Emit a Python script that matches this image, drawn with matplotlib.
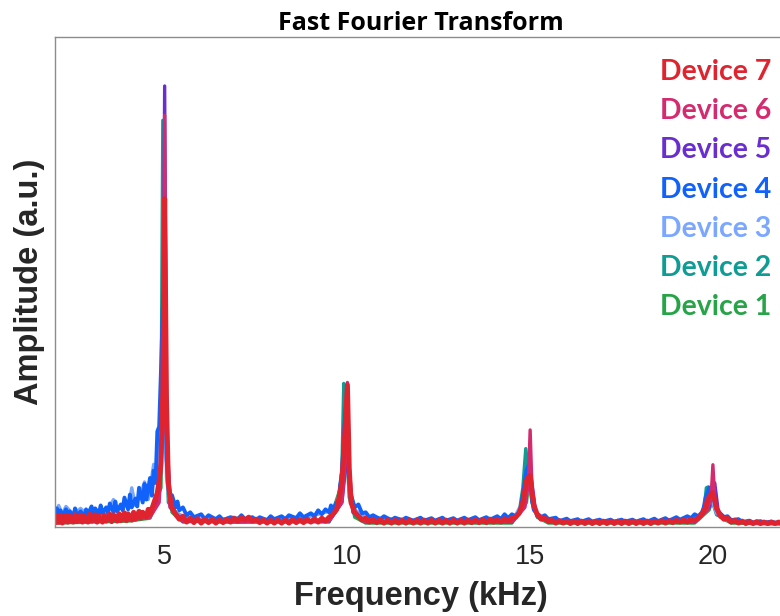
import matplotlib
matplotlib.use("Agg")
import matplotlib.pyplot as plt

# FFT spectra, (frequency kHz, amplitude in % of axis height)
dev1 = [(2.0, 0.8), (4.0, 1.2), (4.6, 1.8), (4.9, 8.0), (5.0, 60), (5.05, 15), (5.2, 3.0), (5.5, 1.0),
        (7.0, 1.8), (7.3, 1.2), (9.5, 1.0), (9.9, 10), (10.0, 22), (10.05, 8.0), (10.2, 2.0), (10.5, 0.8),
        (14.5, 0.8), (14.9, 5.0), (15.0, 12), (15.05, 6.0), (15.2, 2.0), (15.5, 0.8), (19.5, 0.8),
        (19.9, 3.5), (20.0, 6.0), (20.05, 5.0), (20.2, 2.0), (20.5, 0.8), (22.0, 0.6)]

dev2 = [(2.0, 1.0), (4.0, 1.4), (4.6, 2.0), (4.8, 5.0), (4.9, 20), (4.95, 83), (5.0, 30), (5.1, 5.0),
        (5.5, 1.2), (7.0, 1.0), (9.5, 1.2), (9.75, 4.0), (9.85, 12), (9.9, 29.3), (9.95, 20), (10.05, 6.0),
        (10.2, 2.5), (10.5, 1.0), (14.5, 1.0), (14.7, 3.0), (14.8, 8.0), (14.88, 16), (14.95, 12),
        (15.05, 5.0), (15.2, 2.0), (15.5, 1.0), (19.5, 1.0), (19.75, 3.0), (19.82, 8.0), (19.88, 8.2),
        (19.95, 6.0), (20.1, 2.5), (20.5, 1.0), (22.0, 0.7)]

dev3 = [(2.0, 2.4), (2.1, 4.4), (2.2, 2.6), (2.3, 4.2), (2.5, 2.6), (2.7, 3.8), (2.9, 2.4), (3.1, 3.6),
        (3.3, 2.8), (3.5, 4.2), (3.6, 5.6), (3.7, 3.4), (3.9, 4.8), (4.0, 3.8), (4.1, 8.0), (4.2, 4.4),
        (4.35, 6.8), (4.45, 9.2), (4.55, 5.6), (4.7, 12.8), (4.8, 9.0), (4.9, 22), (5.0, 40), (5.05, 10),
        (5.15, 4.5), (5.3, 3.0), (5.5, 2.2), (6.0, 1.6), (7.0, 1.4), (8.0, 1.6), (9.0, 2.2), (9.5, 3.2),
        (9.7, 4.5), (9.85, 9.0), (10.0, 20), (10.05, 8.0), (10.2, 3.5), (10.5, 2.0), (12.0, 1.3),
        (14.0, 1.5), (14.6, 2.4), (14.85, 6.0), (15.0, 8.0), (15.1, 3.5), (15.3, 1.8), (16.0, 1.2),
        (19.0, 1.2), (19.7, 2.4), (19.9, 5.0), (20.0, 5.0), (20.1, 2.8), (20.4, 1.4), (21.0, 1.0), (22.0, 0.8)]

dev4 = [(2.0, 2.0), (2.05, 3.8), (2.1, 2.4), (2.15, 3.4), (2.2, 2.0), (2.3, 3.6), (2.35, 2.4), (2.4, 3.2),
        (2.5, 2.2), (2.55, 3.8), (2.6, 2.2), (2.7, 3.2), (2.8, 2.0), (2.85, 3.6), (2.9, 2.6), (3.0, 4.2),
        (3.05, 2.4), (3.1, 3.8), (3.2, 2.6), (3.25, 4.4), (3.3, 2.8), (3.4, 4.0), (3.45, 2.8), (3.5, 4.8),
        (3.6, 3.0), (3.65, 5.2), (3.7, 3.2), (3.8, 4.6), (3.85, 3.4), (3.9, 6.0), (4.0, 3.6), (4.05, 6.6),
        (4.1, 4.0), (4.2, 5.8), (4.25, 4.2), (4.3, 8.0), (4.4, 5.0), (4.45, 8.8), (4.5, 5.6), (4.6, 10.0),
        (4.65, 6.4), (4.7, 11.5), (4.75, 9.0), (4.8, 19.5), (4.85, 20.5), (4.9, 32), (4.95, 45), (5.0, 50),
        (5.05, 14), (5.1, 8.5), (5.15, 5.5), (5.2, 6.5), (5.3, 4.0), (5.35, 5.2), (5.4, 3.4), (5.5, 4.0),
        (5.6, 2.4), (5.7, 3.0), (5.8, 2.0), (6.0, 2.6), (6.1, 1.6), (6.2, 2.4), (6.4, 1.6), (6.5, 2.2),
        (6.6, 1.4), (6.8, 2.0), (7.0, 1.6), (7.1, 2.4), (7.2, 1.6), (7.4, 2.0), (7.5, 1.4), (7.6, 2.0),
        (7.8, 1.4), (7.9, 2.2), (8.0, 1.6), (8.2, 2.2), (8.3, 1.6), (8.4, 2.4), (8.6, 1.8), (8.7, 2.8),
        (8.8, 2.0), (9.0, 2.8), (9.1, 2.2), (9.2, 3.4), (9.3, 2.6), (9.4, 3.6), (9.5, 3.0), (9.55, 4.4),
        (9.6, 3.4), (9.7, 5.0), (9.75, 4.2), (9.8, 8.5), (9.85, 11), (9.9, 18), (9.95, 24), (10.0, 27),
        (10.05, 9.0), (10.1, 6.5), (10.2, 4.0), (10.3, 4.6), (10.4, 2.8), (10.5, 3.0), (10.6, 2.0),
        (10.7, 2.4), (10.9, 1.6), (11.0, 2.2), (11.2, 1.4), (11.3, 1.9), (11.5, 1.4), (11.6, 1.9),
        (11.8, 1.3), (12.0, 1.9), (12.1, 1.3), (12.3, 1.8), (12.4, 1.3), (12.6, 1.9), (12.7, 1.3),
        (12.9, 1.8), (13.0, 1.3), (13.2, 1.9), (13.3, 1.4), (13.5, 2.0), (13.6, 1.4), (13.8, 2.0),
        (13.9, 1.5), (14.1, 2.2), (14.2, 1.6), (14.3, 2.6), (14.4, 1.8), (14.5, 2.6), (14.6, 2.2),
        (14.7, 3.0), (14.75, 4.2), (14.8, 6.5), (14.85, 9.0), (14.9, 11.5), (14.95, 12.5), (15.0, 10),
        (15.05, 5.5), (15.1, 3.5), (15.2, 2.6), (15.3, 2.0), (15.4, 2.4), (15.5, 1.6), (15.7, 1.9),
        (15.8, 1.2), (16.0, 1.7), (16.1, 1.2), (16.3, 1.6), (16.4, 1.1), (16.6, 1.6), (16.7, 1.1),
        (16.9, 1.5), (17.0, 1.1), (17.2, 1.5), (17.3, 1.1), (17.5, 1.5), (17.6, 1.1), (17.8, 1.5),
        (17.9, 1.1), (18.1, 1.6), (18.2, 1.1), (18.4, 1.7), (18.5, 1.2), (18.7, 1.8), (18.8, 1.3),
        (19.0, 2.0), (19.1, 1.5), (19.3, 2.2), (19.4, 1.8), (19.5, 2.6), (19.6, 2.2), (19.7, 3.0),
        (19.75, 4.0), (19.8, 6.0), (19.85, 7.0), (19.9, 8.0), (19.95, 7.5), (20.0, 6.5), (20.05, 5.0),
        (20.1, 3.6), (20.2, 2.8), (20.3, 2.0), (20.4, 2.2), (20.5, 1.4), (20.7, 1.6), (20.8, 1.0),
        (21.0, 1.3), (21.1, 0.9), (21.3, 1.2), (21.4, 0.9), (21.6, 1.1), (21.7, 0.9), (22.0, 0.9)]

dev5 = [(2.0, 1.0), (4.0, 1.5), (4.6, 2.2), (4.85, 6.0), (4.95, 25), (5.0, 90), (5.05, 22), (5.15, 4.0),
        (5.5, 1.2), (9.5, 1.2), (9.85, 5.0), (9.95, 12), (10.0, 25), (10.05, 10), (10.15, 3.0), (10.5, 1.0),
        (14.5, 1.0), (14.85, 4.0), (15.0, 12), (15.05, 9.0), (15.15, 3.0), (15.5, 1.0), (19.5, 1.0),
        (19.9, 4.0), (20.0, 8.5), (20.05, 9.0), (20.15, 3.0), (20.5, 1.0), (22.0, 0.7)]

dev6 = [(2.0, 0.8), (3.0, 1.2), (4.0, 1.5), (4.6, 2.0), (4.85, 5.0), (4.95, 20), (5.0, 84), (5.05, 20),
        (5.15, 4.0), (5.5, 1.2), (7.0, 1.0), (9.5, 1.2), (9.85, 5.0), (9.95, 14), (10.0, 29.5), (10.05, 12),
        (10.15, 3.5), (10.5, 1.0), (14.5, 1.0), (14.85, 4.0), (14.95, 9.0), (15.0, 19.8), (15.05, 8.0),
        (15.15, 3.0), (15.5, 1.0), (19.5, 1.0), (19.85, 3.5), (19.95, 6.0), (20.0, 12.7), (20.05, 6.0),
        (20.15, 2.5), (20.5, 1.0), (22.0, 0.7)]

dev7 = [(2.0, 1.0), (2.05, 2.2), (2.1, 1.0), (2.15, 2.4), (2.2, 0.8), (2.3, 2.4), (2.35, 1.0), (2.4, 2.2),
        (2.5, 1.0), (2.55, 2.5), (2.6, 1.1), (2.7, 2.4), (2.75, 1.0), (2.8, 2.2), (2.9, 1.0), (2.95, 2.6),
        (3.0, 1.2), (3.1, 2.5), (3.15, 1.0), (3.2, 2.3), (3.3, 1.0), (3.35, 2.4), (3.4, 1.2), (3.5, 2.6),
        (3.55, 1.1), (3.6, 2.5), (3.7, 1.2), (3.75, 2.7), (3.8, 1.3), (3.9, 2.9), (3.95, 1.3), (4.0, 2.7),
        (4.1, 1.4), (4.15, 3.0), (4.2, 1.6), (4.3, 3.2), (4.35, 1.8), (4.4, 3.0), (4.5, 2.0), (4.55, 3.6),
        (4.6, 2.6), (4.7, 4.8), (4.8, 7.0), (4.85, 9.5), (4.9, 13), (4.95, 28), (5.0, 67), (5.05, 26),
        (5.1, 9.0), (5.15, 6.0), (5.2, 4.0), (5.3, 2.6), (5.4, 1.6), (5.5, 2.2), (5.6, 1.0), (5.7, 1.8),
        (5.8, 0.9), (5.9, 1.7), (6.0, 0.8), (6.1, 1.6), (6.2, 0.9), (6.3, 1.6), (6.4, 0.8), (6.5, 1.5),
        (6.6, 0.9), (6.7, 1.6), (6.8, 1.0), (6.9, 1.8), (7.0, 1.2), (7.1, 2.0), (7.2, 1.4), (7.3, 2.0),
        (7.4, 1.2), (7.5, 1.6), (7.6, 0.9), (7.7, 1.5), (7.8, 0.8), (7.9, 1.4), (8.0, 0.8), (8.1, 1.4),
        (8.2, 0.8), (8.3, 1.4), (8.4, 0.8), (8.5, 1.5), (8.6, 0.9), (8.7, 1.5), (8.8, 0.9), (8.9, 1.6),
        (9.0, 1.0), (9.1, 1.7), (9.2, 1.0), (9.3, 1.8), (9.4, 1.2), (9.5, 2.0), (9.6, 2.6), (9.7, 3.5),
        (9.8, 7.0), (9.85, 9.5), (9.9, 15), (9.95, 22), (10.0, 29), (10.05, 12), (10.1, 5.0), (10.2, 3.0),
        (10.3, 2.2), (10.4, 1.4), (10.5, 1.8), (10.6, 1.0), (10.7, 1.6), (10.8, 0.9), (10.9, 1.5),
        (11.0, 0.8), (11.1, 1.4), (11.2, 0.8), (11.3, 1.4), (11.4, 0.8), (11.5, 1.4), (11.6, 0.8),
        (11.7, 1.4), (11.8, 0.8), (11.9, 1.4), (12.0, 0.8), (12.1, 1.4), (12.2, 0.8), (12.3, 1.4),
        (12.4, 0.8), (12.5, 1.4), (12.6, 0.8), (12.7, 1.4), (12.8, 0.8), (12.9, 1.4), (13.0, 0.8),
        (13.1, 1.4), (13.2, 0.8), (13.3, 1.4), (13.4, 0.9), (13.5, 1.5), (13.6, 0.9), (13.7, 1.5),
        (13.8, 0.9), (13.9, 1.6), (14.0, 1.0), (14.1, 1.6), (14.2, 1.0), (14.3, 1.7), (14.4, 1.2),
        (14.5, 1.8), (14.6, 2.0), (14.7, 2.8), (14.8, 5.0), (14.9, 9.5), (14.95, 10.2), (15.0, 10.5),
        (15.05, 7.0), (15.1, 4.5), (15.2, 2.4), (15.3, 1.6), (15.4, 1.8), (15.5, 1.1), (15.6, 1.4),
        (15.7, 0.8), (15.8, 1.3), (15.9, 0.8), (16.0, 1.2), (16.1, 0.7), (16.2, 1.2), (16.3, 0.7),
        (16.4, 1.2), (16.5, 0.7), (16.6, 1.2), (16.7, 0.7), (16.8, 1.2), (16.9, 0.7), (17.0, 1.2),
        (17.1, 0.7), (17.2, 1.2), (17.3, 0.7), (17.4, 1.2), (17.5, 0.7), (17.6, 1.2), (17.7, 0.7),
        (17.8, 1.2), (17.9, 0.7), (18.0, 1.2), (18.1, 0.7), (18.2, 1.2), (18.3, 0.7), (18.4, 1.2),
        (18.5, 0.8), (18.6, 1.3), (18.7, 0.8), (18.8, 1.3), (18.9, 0.9), (19.0, 1.4), (19.1, 1.0),
        (19.2, 1.5), (19.3, 1.0), (19.4, 1.6), (19.5, 1.4), (19.6, 1.8), (19.7, 2.6), (19.8, 4.0),
        (19.85, 5.5), (19.9, 6.2), (19.95, 6.8), (20.0, 7.0), (20.05, 5.5), (20.1, 3.8), (20.2, 2.4),
        (20.3, 1.6), (20.4, 1.8), (20.5, 1.0), (20.6, 1.4), (20.7, 0.8), (20.8, 1.2), (20.9, 0.7),
        (21.0, 1.1), (21.1, 0.7), (21.2, 1.1), (21.3, 0.7), (21.4, 1.0), (21.5, 0.7), (21.6, 1.0),
        (21.7, 0.7), (21.8, 1.0), (21.9, 0.7), (22.0, 0.9)]

labels = ["Device 1", "Device 2", "Device 3", "Device 4", "Device 5", "Device 6", "Device 7"]
spectra = [dev1, dev2, dev3, dev4, dev5, dev6, dev7]
colors = ['#27A348', '#0E9C94', '#7BA7FF', '#1062FA', '#6A2ECF', '#D42A6E', '#E0242F']
widths = [2.4, 2.4, 2.4, 2.8, 2.4, 2.4, 3.6]
xticks = [5, 10, 15, 20]

fig = plt.figure(figsize=(7.8, 6.16), dpi=100)
ax = fig.add_axes([55 / 780, 89 / 616, 731 / 780, 490 / 616])

for spec, c, lw in zip(spectra, colors, widths):
    f, a = zip(*spec)
    ax.plot(f, a, color=c, linewidth=lw, solid_joinstyle='round')

ax.set_xlim(2, 22)
ax.set_ylim(0, 100)
ax.set_yticks([])
ax.set_xticks(xticks)
ax.set_xticklabels([str(t) for t in xticks], family='Liberation Sans', fontsize=19.5, color='#262626')
ax.tick_params(axis='x', length=0, pad=12)

for side in ['left', 'top', 'bottom']:
    ax.spines[side].set_color('#8c8c8c')
    ax.spines[side].set_linewidth(1.0)
ax.spines['right'].set_visible(False)

ax.set_xlabel('Frequency (kHz)', family='Liberation Sans', fontweight='bold', fontsize=23.5,
              color='#262626', labelpad=8)
ax.set_ylabel('Amplitude (a.u.)', family='Liberation Sans', fontweight='bold', fontsize=23.5,
              color='#262626', labelpad=7)
ax.set_title('Fast Fourier Transform', family='Open Sans', fontweight='bold', fontsize=18, pad=5)

# coloured text legend, top to bottom: Device 7 ... Device 1
for i, (lab, c) in enumerate(zip(labels[::-1], colors[::-1])):
    fig.text(771 / 780, 1 - (72 + 39.2 * i) / 616, lab, color=c, family='Lato', fontweight='bold',
             fontsize=20.5, ha='right', va='center')

fig.savefig('out.png', dpi=100)
